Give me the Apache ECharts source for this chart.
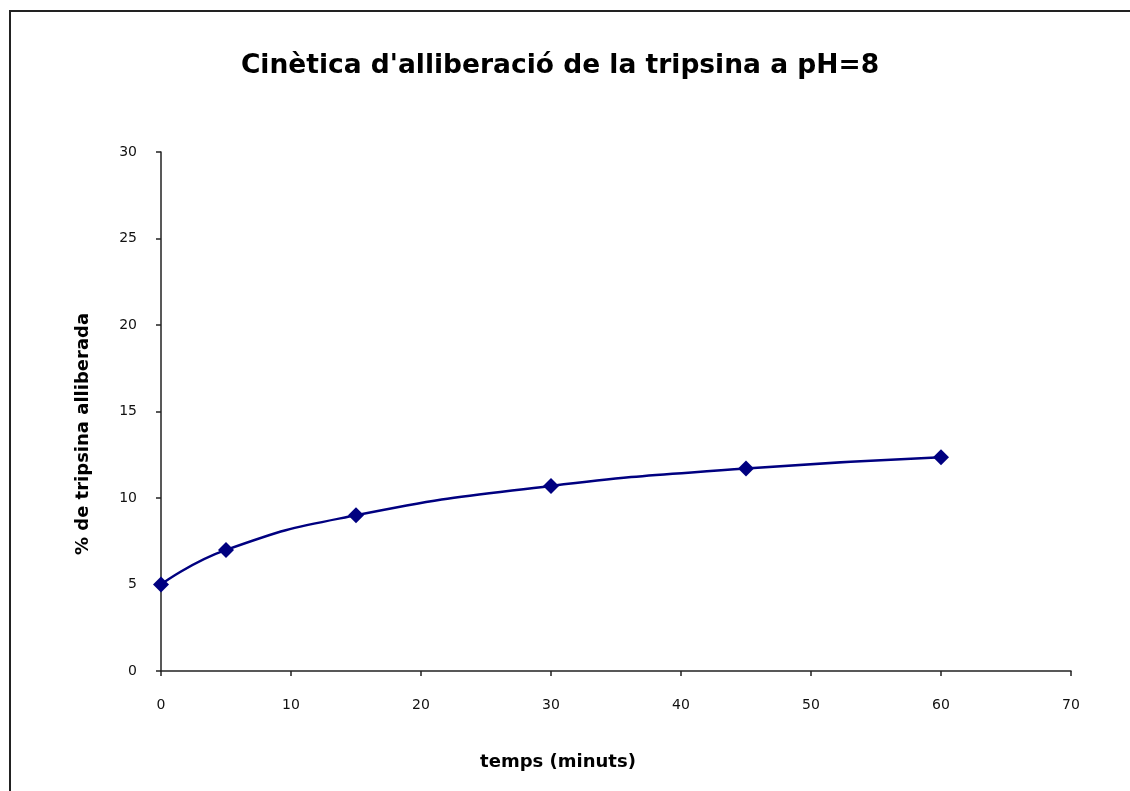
<!DOCTYPE html>
<html>
<head>
<meta charset="utf-8">
<script src="https://cdn.jsdelivr.net/npm/echarts@6/dist/echarts.min.js"></script>
<style>
  html, body { margin: 0; padding: 0; background: #fff; }
  #chart { width: 1130px; height: 791px; }
  #frame {
    position: absolute; left: 9px; top: 10px; width: 1200px; height: 900px;
    border-left: 2px solid #222; border-top: 2px solid #222;
    pointer-events: none;
  }
</style>
</head>
<body>
<div id="chart"></div>
<div id="frame"></div>
<script>
// temps (minuts) and % of trypsin released
const minutes = [0, 5, 15, 30, 45, 60];
const released = [5, 7, 9, 10.7, 11.7, 12.35];
const titleText = "Cinètica d'alliberació de la tripsina a pH=8";
const xName = 'temps (minuts)';
const yName = '% de tripsina alliberada';

const chart = echarts.init(document.getElementById('chart'));

const font = 'DejaVu Sans';

chart.setOption({
  animation: false,
  backgroundColor: 'transparent',
  title: {
    text: titleText,
    left: 555,
    top: 48,
    textAlign: 'center',
    textStyle: { fontFamily: font, fontWeight: 'bold', fontSize: 26.5, color: '#000' }
  },
  graphic: [
    {
      type: 'text',
      x: 558, y: 762,
      style: {
        text: xName, fontFamily: font, fontWeight: 'bold', fontSize: 18,
        fill: '#000', align: 'center', verticalAlign: 'middle'
      }
    },
    {
      type: 'text',
      x: 83, y: 434,
      rotation: Math.PI / 2,
      style: {
        text: yName, fontFamily: font, fontWeight: 'bold', fontSize: 18,
        fill: '#000', align: 'center', verticalAlign: 'middle'
      }
    }
  ],
  grid: { left: 161, right: 59, top: 152, bottom: 120, containLabel: false },
  xAxis: {
    type: 'value',
    min: 0, max: 70, interval: 10,
    splitLine: { show: false },
    axisLine: { lineStyle: { color: '#222', width: 1.5 } },
    axisTick: { show: true, length: 5, lineStyle: { color: '#222', width: 1.5 } },
    axisLabel: { margin: 27, fontFamily: font, fontSize: 14, color: '#111' }
  },
  yAxis: {
    type: 'value',
    min: 0, max: 30, interval: 5,
    splitLine: { show: false },
    axisLine: { show: true, lineStyle: { color: '#222', width: 1.5 } },
    axisTick: { show: true, length: 5, lineStyle: { color: '#222', width: 1.5 } },
    axisLabel: { margin: 24, fontFamily: font, fontSize: 14, color: '#111' }
  },
  series: [{
    type: 'line',
    data: minutes.map((m, i) => [m, released[i]]),
    smooth: true,
    symbol: 'diamond',
    symbolSize: 16,
    lineStyle: { color: '#000080', width: 2.5 },
    itemStyle: { color: '#000080' }
  }]
});
</script>
</body>
</html>
